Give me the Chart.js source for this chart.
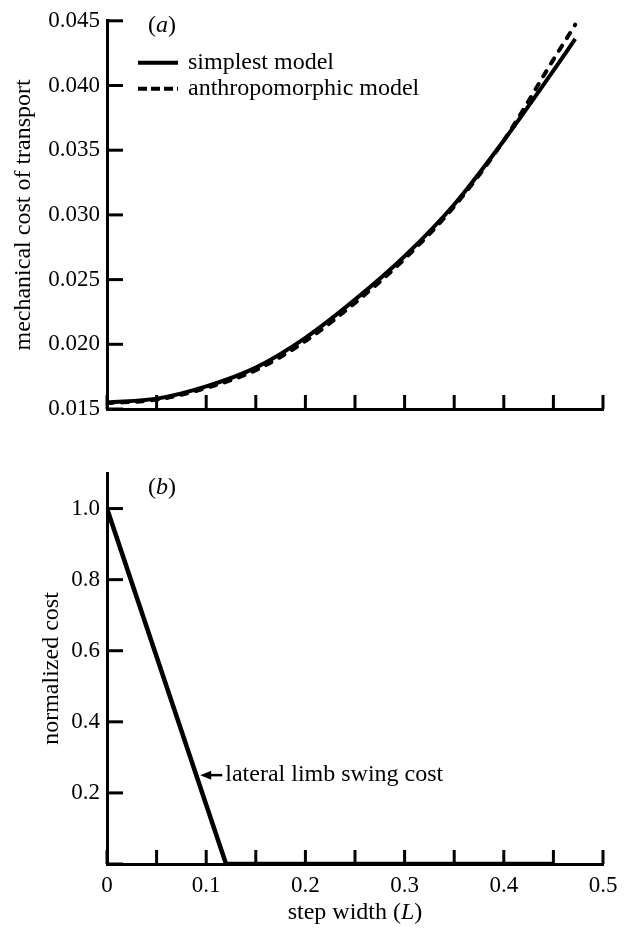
<!DOCTYPE html>
<html>
<head>
<meta charset="utf-8">
<script src="https://cdn.jsdelivr.net/npm/chart.js@4.4.0/dist/chart.umd.min.js"></script>
<style>
  body { margin: 0; background: #fff; }
  canvas { display: block; }
</style>
</head>
<body>
<canvas id="costChart" width="630" height="430"></canvas>
<canvas id="swingChart" width="630" height="499"></canvas>
<script>
// (a) mechanical cost of transport vs step width
const widthSimplest = [0, 0.05, 0.1, 0.15, 0.2, 0.25, 0.3, 0.35, 0.4, 0.45, 0.472];
const costSimplest = [0.01550, 0.01580, 0.01675, 0.01820, 0.02050, 0.02345, 0.02680, 0.03080, 0.03575, 0.04115, 0.04360];
const widthAnthro = [0, 0.05, 0.1, 0.15, 0.2, 0.25, 0.3, 0.35, 0.4, 0.45, 0.472];
const costAnthro = [0.01545, 0.01572, 0.01662, 0.01800, 0.02025, 0.02320, 0.02660, 0.03065, 0.03575, 0.04200, 0.04470];
const yTicksA = [0.015, 0.020, 0.025, 0.030, 0.035, 0.040, 0.045];

// (b) normalized lateral limb swing cost
const widthSwing = [0, 0.12, 0.45];
const costSwing = [1.0, 0, 0];
const xTicksB = [0, 0.1, 0.2, 0.3, 0.4, 0.5];
const yTicksB = [0.2, 0.4, 0.6, 0.8, 1.0];

const FONT = "'Liberation Serif', 'Times New Roman', serif";
const FS = 23;      // tick labels
const FS_TEXT = 24; // titles, legend, notes
Chart.defaults.font.family = FONT;
Chart.defaults.font.size = FS;
Chart.defaults.color = '#000';

function toPoints(xs, ys) {
    return xs.map((x, i) => ({x: x, y: ys[i]}));
}

// draws a run of text pieces, some italic
function drawPieces(ctx, pieces, x, y, align) {
    let total = 0;
    pieces.forEach(p => {
        ctx.font = (p.it ? 'italic ' : '') + FS_TEXT + 'px ' + FONT;
        p.w = ctx.measureText(p.t).width;
        total += p.w;
    });
    let cx = align === 'center' ? x - total / 2 : x;
    ctx.textAlign = 'left';
    ctx.textBaseline = 'middle';
    pieces.forEach(p => {
        ctx.font = (p.it ? 'italic ' : '') + FS_TEXT + 'px ' + FONT;
        ctx.fillText(p.t, cx, y);
        cx += p.w;
    });
}

// tick marks pointing into the plot
const inwardTicks = {
    id: 'inwardTicks',
    afterDatasetsDraw(chart, args, opts) {
        const {ctx, chartArea, scales} = chart;
        ctx.save();
        ctx.strokeStyle = '#000';
        ctx.lineWidth = 3;
        scales.x.ticks.forEach(t => {
            const px = scales.x.getPixelForValue(t.value);
            ctx.beginPath();
            ctx.moveTo(px, chartArea.bottom);
            ctx.lineTo(px, chartArea.bottom - opts.xLen);
            ctx.stroke();
        });
        scales.y.ticks.forEach(t => {
            const py = scales.y.getPixelForValue(t.value);
            ctx.beginPath();
            ctx.moveTo(chartArea.left, py);
            ctx.lineTo(chartArea.left + opts.yLen, py);
            ctx.stroke();
        });
        ctx.restore();
    }
};

// panel letter, legend, annotation, x title
const extras = {
    id: 'extras',
    afterDraw(chart, args, opts) {
        const {ctx, chartArea, scales} = chart;
        ctx.save();
        ctx.fillStyle = '#000';
        drawPieces(ctx, [{t: '('}, {t: opts.panel, it: true}, {t: ')'}],
            chartArea.left + 41, chartArea.top + opts.panelDy, 'left');

        if (opts.legend) {
            chart.data.datasets.forEach((ds, i) => {
                const y = chartArea.top + 42 + i * 26;
                ctx.strokeStyle = '#000';
                ctx.lineWidth = 4;
                ctx.setLineDash(ds.borderDash ? [9, 4] : []);
                ctx.lineCap = 'butt';
                ctx.beginPath();
                ctx.moveTo(chartArea.left + 31, y);
                ctx.lineTo(chartArea.left + 71, y);
                ctx.stroke();
                ctx.setLineDash([]);
                drawPieces(ctx, [{t: ds.label}], chartArea.left + 81, y, 'left');
            });
        }

        if (opts.note) {
            const tx = scales.x.getPixelForValue(opts.note.x) + 2;
            const ty = scales.y.getPixelForValue(opts.note.y);
            ctx.strokeStyle = '#000';
            ctx.lineWidth = 2.5;
            ctx.beginPath();
            ctx.moveTo(tx + 6, ty);
            ctx.lineTo(tx + 22, ty);
            ctx.stroke();
            ctx.beginPath();
            ctx.moveTo(tx, ty);
            ctx.lineTo(tx + 11, ty - 4.5);
            ctx.lineTo(tx + 11, ty + 4.5);
            ctx.closePath();
            ctx.fill();
            drawPieces(ctx, [{t: opts.note.text}], tx + 25, ty, 'left');
        }

        if (opts.xTitle) {
            const cx = (chartArea.left + chartArea.right) / 2;
            drawPieces(ctx, opts.xTitle, cx, chartArea.bottom + 49, 'center');
        }
        ctx.restore();
    }
};

new Chart(document.getElementById('costChart').getContext('2d'), {
    type: 'line',
    data: {
        datasets: [
            {
                label: 'simplest model',
                data: toPoints(widthSimplest, costSimplest),
                borderColor: '#000',
                borderWidth: 4,
                pointRadius: 0,
                cubicInterpolationMode: 'monotone',
                fill: false,
            },
            {
                label: 'anthropomorphic model',
                data: toPoints(widthAnthro, costAnthro),
                borderColor: '#000',
                borderWidth: 4,
                borderDash: [6, 9],
                borderCapStyle: 'round',
                pointRadius: 0,
                cubicInterpolationMode: 'monotone',
                fill: false,
            },
        ]
    },
    options: {
        responsive: false,
        animation: false,
        layout: {padding: {left: 0, right: 27, top: 20, bottom: 0}},
        plugins: {
            legend: {display: false},
            tooltip: {enabled: false},
            inwardTicks: {xLen: 14, yLen: 16},
            extras: {panel: 'a', panelDy: 5, legend: true},
        },
        scales: {
            x: {
                type: 'linear',
                min: 0,
                max: 0.5,
                ticks: {display: false, stepSize: 0.05},
                grid: {display: false, drawTicks: false},
                border: {display: true, width: 3, color: '#000'},
                afterFit(scale) { scale.height = 21; },
            },
            y: {
                min: 0.015,
                max: 0.045,
                afterBuildTicks(scale) { scale.ticks = yTicksA.map(v => ({value: v})); },
                ticks: {padding: 7, callback: v => v.toFixed(3)},
                grid: {display: false, drawTicks: false},
                border: {display: true, width: 3, color: '#000'},
                title: {display: true, text: 'mechanical cost of transport', font: {size: FS_TEXT}, padding: {top: 9, bottom: 0}},
                afterFit(scale) { scale.width = 107; },
            }
        }
    },
    plugins: [inwardTicks, extras]
});

new Chart(document.getElementById('swingChart').getContext('2d'), {
    type: 'line',
    data: {
        datasets: [
            {
                label: 'lateral limb swing cost',
                data: toPoints(widthSwing, costSwing),
                borderColor: '#000',
                borderWidth: 4.5,
                pointRadius: 0,
                tension: 0,
                fill: false,
            },
        ]
    },
    options: {
        responsive: false,
        animation: false,
        layout: {padding: {left: 0, right: 27, top: 43, bottom: 0}},
        plugins: {
            legend: {display: false},
            tooltip: {enabled: false},
            inwardTicks: {xLen: 14, yLen: 16},
            extras: {
                panel: 'b',
                panelDy: 15,
                note: {x: 0.092, y: 0.25, text: 'lateral limb swing cost'},
                xTitle: [{t: 'step width ('}, {t: 'L', it: true}, {t: ')'}],
            },
        },
        scales: {
            x: {
                type: 'linear',
                min: 0,
                max: 0.5,
                afterBuildTicks(scale) {
                    const t = [];
                    for (let i = 0; i <= 10; i++) t.push({value: i * 0.05});
                    scale.ticks = t;
                },
                ticks: {
                    padding: 8,
                    maxRotation: 0,
                    autoSkip: false,
                    callback: v => {
                        const k = Math.round(v * 20);
                        if (k % 2) return '';
                        const label = xTicksB.find(x => Math.abs(x - k / 20) < 1e-9);
                        return label === 0 ? '0' : label.toFixed(1);
                    }
                },
                grid: {display: false, drawTicks: false},
                border: {display: true, width: 3, color: '#000'},
                afterFit(scale) { scale.height = 65; },
            },
            y: {
                min: 0,
                max: 1.1,
                afterBuildTicks(scale) { scale.ticks = [0].concat(yTicksB).map(v => ({value: v})); },
                ticks: {padding: 7, callback: v => v === 0 ? '' : v.toFixed(1)},
                grid: {display: false, drawTicks: false},
                border: {display: true, width: 3, color: '#000'},
                title: {display: true, text: 'normalized cost', font: {size: FS_TEXT}, padding: {top: 37, bottom: 0}},
                afterFit(scale) { scale.width = 107; },
            }
        }
    },
    plugins: [inwardTicks, extras]
});
</script>
</body>
</html>
